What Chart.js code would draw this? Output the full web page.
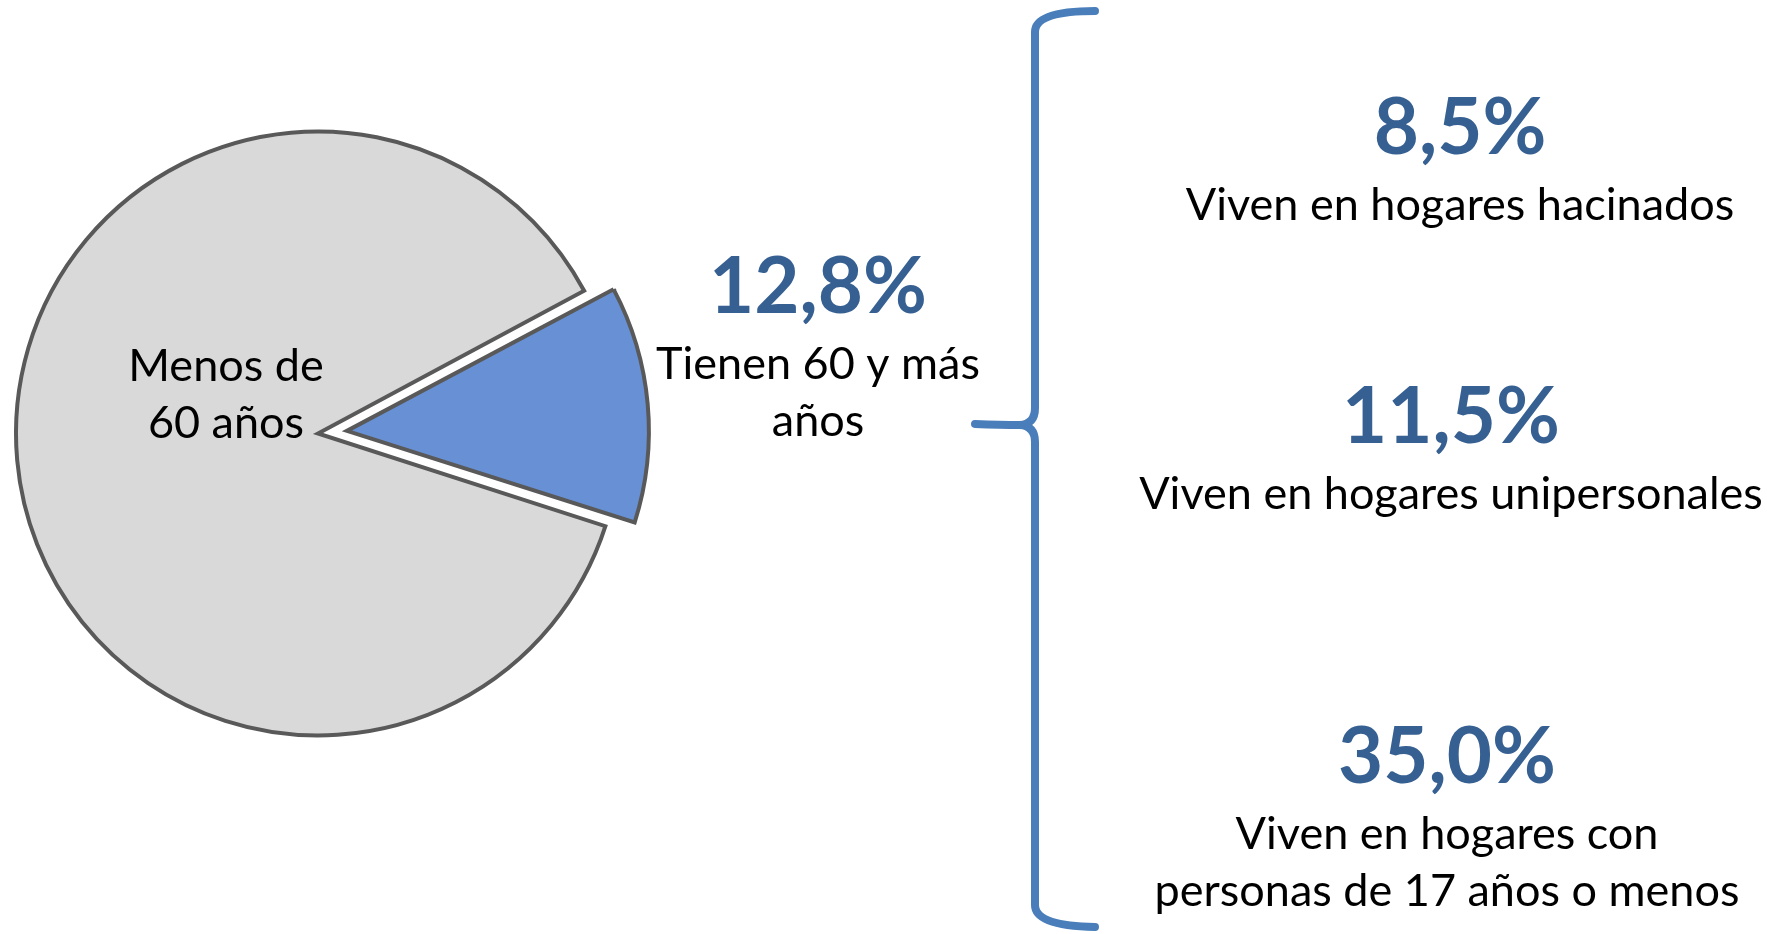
<!DOCTYPE html>
<html lang="es">
<head>
<meta charset="utf-8">
<title>Personas de 60 y más años</title>
<script src="https://cdn.jsdelivr.net/npm/chart.js@4.4.1/dist/chart.umd.min.js"></script>
<style>
  html, body { margin: 0; padding: 0; background: #fff; }
  #grafico { display: block; }
</style>
</head>
<body>
<canvas id="grafico" width="1767" height="934"></canvas>
<script>
// datos de la torta
var categorias = ['Tienen 60 y más años', 'Menos de 60 años'];
var valores = [12.8, 87.2];
var etiquetasTorta = [['Tienen 60 y más', 'años'], ['Menos de', '60 años']];

// indicadores del grupo de 60 y más años
var indicadores = [
  ['Viven en hogares hacinados'],
  ['Viven en hogares unipersonales'],
  ['Viven en hogares con', 'personas de 17 años o menos']
];
var porcentajes = [8.5, 11.5, 35.0];

var AZUL_TEXTO = '#376092';
var AZUL_LLAVE = '#4A7EBB';
var FUENTE = 'Lato, "Open Sans", sans-serif';

function formatoPorcentaje(v) {
  return v.toFixed(1).replace('.', ',') + '%';
}

// dibuja un bloque: porcentaje en negrita y debajo las lineas de texto
function bloque(ctx, x, y, pct, lineas) {
  if (pct !== null) {
    ctx.fillStyle = AZUL_TEXTO;
    ctx.font = 'bold 78px ' + FUENTE;
    ctx.fillText(formatoPorcentaje(pct), x, y);
    y += 66;
  }
  ctx.fillStyle = '#000';
  ctx.font = '45px ' + FUENTE;
  lineas.forEach(function (l, i) {
    ctx.fillText(l, x, y + i * 57);
  });
}

// la porcion separada no debe crecer de radio al desplazarse
var radioParejo = {
  id: 'radioParejo',
  afterDatasetUpdate: function (chart, args) {
    args.meta.data.forEach(function (arc) {
      var o = (arc.options.offset || 0) / 4;
      if (!o) return;
      var fix = 1 - Math.sin(Math.min(Math.PI, arc.circumference));
      arc.outerRadius -= o * fix;
    });
  }
};

var textos = {
  id: 'textos',
  afterDraw: function (chart) {
    var ctx = chart.ctx;
    ctx.save();
    ctx.textAlign = 'center';
    ctx.textBaseline = 'alphabetic';

    // etiquetas de la torta
    bloque(ctx, 226, 381, null, etiquetasTorta[1]);
    bloque(ctx, 818, 313, valores[0], etiquetasTorta[0]);

    // llave
    ctx.strokeStyle = AZUL_LLAVE;
    ctx.lineWidth = 8;
    ctx.lineCap = 'round';
    ctx.lineJoin = 'round';
    ctx.beginPath();
    ctx.moveTo(1095, 11);
    ctx.quadraticCurveTo(1035, 11, 1035, 32);
    ctx.lineTo(1035, 408);
    ctx.quadraticCurveTo(1035, 424, 1020, 425);
    ctx.quadraticCurveTo(1000, 425, 975, 424);
    ctx.moveTo(1020, 425);
    ctx.quadraticCurveTo(1035, 426, 1035, 442);
    ctx.lineTo(1035, 905);
    ctx.quadraticCurveTo(1035, 926, 1095, 927);
    ctx.stroke();

    // indicadores
    bloque(ctx, 1460, 154, porcentajes[0], indicadores[0]);
    bloque(ctx, 1451, 443, porcentajes[1], indicadores[1]);
    bloque(ctx, 1447, 783, porcentajes[2], indicadores[2]);
    ctx.restore();
  }
};

var ctx = document.getElementById('grafico').getContext('2d');
var grafico = new Chart(ctx, {
  type: 'pie',
  data: {
    labels: categorias,
    datasets: [{
      data: valores,
      backgroundColor: ['#6891D5', '#D9D9D9'],
      borderColor: '#595959',
      borderWidth: 4,
      borderJoinStyle: 'miter',
      offset: [116, 0],
      hoverOffset: 0
    }]
  },
  options: {
    responsive: false,
    animation: false,
    events: [],
    rotation: 61.8,
    radius: 302,
    layout: { padding: { left: 0, top: 0, right: 1131, bottom: 67 } },
    plugins: {
      legend: { display: false },
      tooltip: { enabled: false }
    }
  },
  plugins: [radioParejo, textos]
});
</script>
</body>
</html>
